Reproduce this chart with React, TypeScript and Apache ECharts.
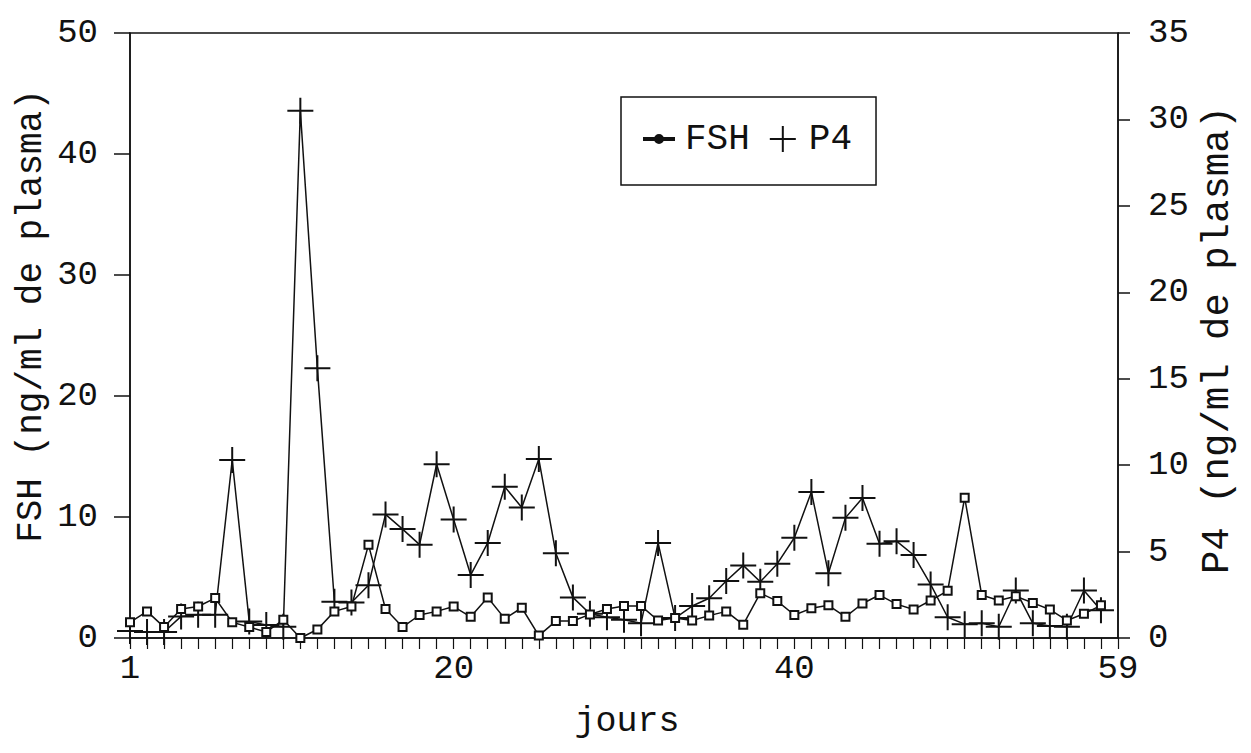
import React, { useEffect, useRef } from "react";
import * as echarts from "echarts";

// Sampling days (one blood sample per day)
const days = [
  1, 2, 3, 4, 5, 6, 7, 8, 9, 10, 11, 12, 13, 14, 15, 16, 17, 18, 19, 20,
  21, 22, 23, 24, 25, 26, 27, 28, 29, 30, 31, 32, 33, 34, 35, 36, 37, 38, 39, 40,
  41, 42, 43, 44, 45, 46, 47, 48, 49, 50, 51, 52, 53, 54, 55, 56, 57, 58,
];

// FSH, ng/ml de plasma (left axis)
const fsh = [
  1.3, 2.2, 0.9, 2.4, 2.6, 3.3, 1.3, 0.9, 0.5, 1.5, 0.0, 0.7, 2.2, 2.6, 7.7, 2.4, 0.9, 1.9, 2.2, 2.6,
  1.75, 3.35, 1.6, 2.5, 0.2, 1.4, 1.4, 1.95, 2.4, 2.65, 2.65, 1.45, 1.65, 1.45, 1.85, 2.2, 1.1, 3.7, 3.05, 1.9,
  2.45, 2.7, 1.75, 2.85, 3.55, 2.8, 2.35, 3.1, 3.9, 11.6, 3.55, 3.1, 3.45, 2.9, 2.35, 1.45, 2.0, 2.7,
];

// P4 (progesterone), ng/ml de plasma (right axis)
const p4 = [
  0.4, 0.35, 0.35, 1.25, 1.35, 1.35, 10.3, 0.95, 0.75, 0.65, 30.5, 15.6, 2.1, 2.05, 3.05, 7.15, 6.3, 5.4, 10.05, 6.85,
  3.65, 5.5, 8.75, 7.55, 10.35, 4.9, 2.35, 1.4, 1.2, 1.05, 0.85, 5.5, 1.15, 1.85, 2.3, 3.3, 4.2, 3.25, 4.3, 5.8,
  8.45, 3.75, 6.95, 8.1, 5.45, 5.6, 4.8, 3.1, 1.2, 0.8, 0.85, 0.65, 2.75, 0.85, 0.7, 0.65, 2.75, 1.6,
];

// Day labels shown under the x axis
const dayLabels = [1, 20, 40, 59];

const FONT = "Liberation Mono";
const INK = "#111";

const PLUS = "path://M0,12h26v2h-26zM12,0h2v26h-2z";
const DOT_LINE = "path://M0,3h30v2h-30zM11,4a4,4 0 1,0 8,0a4,4 0 1,0 -8,0z";

export default function App() {
  const ref = useRef<HTMLDivElement>(null);

  useEffect(() => {
    if (!ref.current) return;
    const chart = echarts.init(ref.current, undefined, { renderer: "svg" });

    const option: echarts.EChartsOption = {
      animation: false,
      backgroundColor: "#fff",
      textStyle: { fontFamily: FONT, color: INK },
      grid: {
        left: 130,
        right: 133,
        top: 33,
        bottom: 115,
        show: true,
        borderColor: INK,
        borderWidth: 1.5,
        backgroundColor: "transparent",
      },
      legend: {
        left: 621,
        top: 97,
        orient: "horizontal",
        padding: [24, 24, 28, 22],
        itemWidth: 30,
        itemHeight: 26,
        itemGap: 20,
        borderColor: INK,
        borderWidth: 1.5,
        textStyle: { fontFamily: FONT, fontSize: 36, color: INK, padding: [0, 0, 0, 6] },
        data: [
          { name: "FSH", icon: DOT_LINE, itemStyle: { color: INK } },
          { name: "P4", icon: PLUS, itemStyle: { color: INK } },
        ],
      },
      xAxis: {
        type: "value",
        min: 1,
        max: 59,
        interval: 1,
        axisLine: { show: true, lineStyle: { color: INK, width: 1.5 } },
        axisTick: { show: true, inside: false, length: 11, lineStyle: { color: INK, width: 1.2 } },
        splitLine: { show: false },
        axisLabel: {
          margin: 14,
          fontFamily: FONT,
          fontSize: 34,
          color: INK,
          showMinLabel: true,
          showMaxLabel: true,
          formatter: (v: number) => (dayLabels.includes(v) ? String(v) : ""),
        },
      },
      yAxis: [
        {
          type: "value",
          position: "left",
          min: 0,
          max: 50,
          interval: 10,
          axisLine: { show: true, lineStyle: { color: INK, width: 1.5 } },
          axisTick: { show: true, inside: false, length: 16, lineStyle: { color: INK, width: 1.5 } },
          splitLine: { show: false },
          axisLabel: { margin: 32, fontFamily: FONT, fontSize: 34, color: INK },
        },
        {
          type: "value",
          position: "right",
          min: 0,
          max: 35,
          interval: 5,
          axisLine: { show: true, lineStyle: { color: INK, width: 1.5 } },
          axisTick: { show: true, inside: false, length: 12, lineStyle: { color: INK, width: 1.5 } },
          splitLine: { show: false },
          axisLabel: { margin: 30, fontFamily: FONT, fontSize: 34, color: INK },
        },
      ],
      series: [
        {
          name: "FSH",
          type: "line",
          yAxisIndex: 0,
          data: days.map((d, i) => [d, fsh[i]]),
          symbol: "rect",
          symbolSize: 8,
          itemStyle: { color: "#fff", borderColor: INK, borderWidth: 2 },
          lineStyle: { color: INK, width: 1.5 },
          z: 3,
        },
        {
          name: "P4",
          type: "line",
          yAxisIndex: 1,
          data: days.map((d, i) => [d, p4[i]]),
          symbol: PLUS,
          symbolSize: 26,
          itemStyle: { color: INK },
          lineStyle: { color: INK, width: 1.5 },
          z: 2,
        },
      ],
      graphic: [
        {
          type: "text",
          x: 31,
          y: 316,
          rotation: Math.PI / 2,
          style: {
            text: "FSH (ng/ml de plasma)",
            fontFamily: FONT,
            fontSize: 36,
            fill: INK,
            align: "center",
            verticalAlign: "middle",
          },
        },
        {
          type: "text",
          x: 1218,
          y: 340,
          rotation: Math.PI / 2,
          style: {
            text: "P4 (ng/ml de plasma)",
            fontFamily: FONT,
            fontSize: 39,
            fill: INK,
            align: "center",
            verticalAlign: "middle",
          },
        },
        {
          type: "text",
          x: 627,
          y: 722,
          style: {
            text: "jours",
            fontFamily: FONT,
            fontSize: 35,
            fill: INK,
            align: "center",
            verticalAlign: "middle",
          },
        },
      ],
    };

    chart.setOption(option);
    return () => chart.dispose();
  }, []);

  return (
    <div
      ref={ref}
      style={{ position: "absolute", left: 0, top: 0, width: 1251, height: 753, background: "#fff" }}
    />
  );
}
